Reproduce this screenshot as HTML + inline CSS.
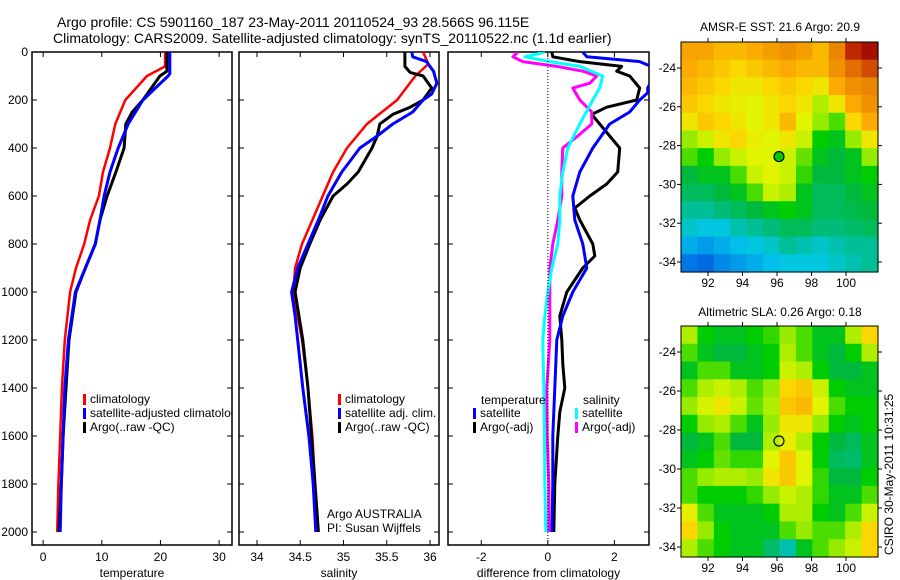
<!DOCTYPE html>
<html><head><meta charset="utf-8"><style>
body{margin:0;background:#fff;width:900px;height:580px;overflow:hidden}
svg{display:block;font-family:"Liberation Sans",sans-serif}
</style></head><body>
<svg id="c" width="900" height="580">
<text x="57" y="27" font-size="14">Argo profile: CS 5901160_187 23-May-2011 20110524_93 28.566S 96.115E</text>
<text x="53" y="43" font-size="14">Climatology: CARS2009. Satellite-adjusted climatology: synTS_20110522.nc (1.1d earlier)</text>
<text x="780" y="31" font-size="12" text-anchor="middle">AMSR-E SST: 21.6 Argo: 20.9</text>
<text x="780" y="316" font-size="12" text-anchor="middle">Altimetric SLA: 0.26 Argo: 0.18</text>
<text transform="translate(893,555) rotate(-90)" font-size="12">CSIRO 30-May-2011 10:31:25</text>
</svg>
<script>
// ---- data ----
const tDepthClim=[0,60,100,200,300,400,500,600,700,800,900,1000,1200,1400,1600,1800,2000];
const tempClim=[20.8,20.8,17.7,14,12.3,11.4,10.2,9.5,8,7,5.6,4.6,3.7,3.2,2.9,2.6,2.4];
const tDepthSat=[0,90,100,200,300,400,500,600,700,800,900,1000,1200,1400,1600,1800,2000];
const tempSat=[21.6,21.6,21.3,17,14.5,12.8,11.4,10.4,9.7,8.9,7.2,5.5,4.3,3.7,3.4,3.1,2.9];
const tDepthArgo=[0,80,100,200,250,300,400,500,600,700,800,900,1000,1200,1400,1600,1800,2000];
const tempArgo=[21.1,21.1,19.9,17,15.2,14.1,13.8,12.4,10.9,9.7,8.9,7.2,5.6,4.4,3.9,3.4,3.1,2.7];

const sDepthClim=[0,50,100,200,300,400,500,600,700,800,900,1000,1200,1400,1600,1800,2000];
const salClim=[35.92,35.98,35.83,35.62,35.27,35.04,34.88,34.76,34.64,34.52,34.44,34.42,34.52,34.59,34.64,34.67,34.71];
const sDepthSat=[0,20,40,80,130,175,200,250,300,350,400,500,600,700,800,900,1000,1100,1200,1400,1600,1800,2000];
const salSat=[35.79,35.8,35.96,36.04,36.08,36.02,35.92,35.8,35.57,35.39,35.19,34.98,34.82,34.71,34.59,34.47,34.4,34.44,34.47,34.53,34.6,34.65,34.68];
const sDepthArgo=[0,60,85,100,150,200,230,260,300,350,400,500,550,600,700,800,900,1000,1200,1400,1600,1800,2000];
const salArgo=[35.71,35.71,35.77,35.92,36.02,35.92,35.77,35.57,35.42,35.39,35.33,35.17,35.04,34.88,34.73,34.61,34.5,34.44,34.53,34.59,34.63,34.67,34.71];

const dDepthTS=[0,20,40,60,100,150,170,200,250,300,400,500,600,700,800,900,1000,1100,1200,1400,1600,1800,2000];
const diffTempSat=[1.05,1.17,2.76,3.1,3.2,3.0,3.0,2.76,2.46,1.86,1.35,0.96,0.75,0.81,1.05,1.17,0.75,0.45,0.27,0.21,0.15,0.15,0.12];
const dDepthTA=[0,20,40,60,80,100,150,200,230,260,300,400,500,550,600,650,700,800,850,900,1000,1100,1200,1300,1400,1500,1600,1800,2000];
const diffTempArgo=[0.12,0.15,0.96,2.22,2.07,2.46,2.76,2.67,1.77,1.32,1.56,2.16,2.1,1.77,1.26,0.81,0.96,1.35,1.41,1.05,0.57,0.36,0.42,0.45,0.51,0.36,0.3,0.21,0.18];
const dDepthSS=[0,20,40,60,100,150,200,300,400,500,600,700,800,900,1000,1100,1200,1400,1600,1800,2000];
const diffSalSat=[-0.09,-0.69,0.06,0.96,1.65,1.56,1.35,0.96,0.6,0.45,0.36,0.36,0.3,0.12,0,-0.09,-0.15,-0.12,-0.1,-0.09,-0.06];
const dDepthSA=[0,20,40,60,80,100,130,150,200,250,300,350,400,500,600,700,800,900,1000,1200,1400,1600,1800,2000];
const diffSalArgo=[-0.9,-1.05,-0.75,0.27,1.05,1.47,1.26,0.75,0.96,1.32,1.32,0.9,0.45,0.42,0.42,0.3,0.15,0.06,0.06,0.06,-0.03,-0.02,0.03,0.03];

const depthTicks=[0,200,400,600,800,1000,1200,1400,1600,1800,2000];
const tempTicks=[0,10,20,30];
const salTicks=[34,34.5,35,35.5,36];
const diffTicks=[-2,0,2];
const lonTicks=[92,94,96,98,100];
const latTicks=[-24,-26,-28,-30,-32,-34];

const sstGrid=[
[0.75,0.75,0.72,0.72,0.74,0.76,0.78,0.76,0.72,0.8,0.92,0.97],
[0.74,0.72,0.7,0.68,0.7,0.72,0.74,0.72,0.72,0.78,0.84,0.88],
[0.72,0.7,0.68,0.66,0.66,0.68,0.7,0.68,0.66,0.74,0.78,0.8],
[0.7,0.68,0.66,0.65,0.64,0.66,0.68,0.66,0.6,0.66,0.74,0.78],
[0.66,0.7,0.68,0.66,0.64,0.66,0.72,0.64,0.58,0.55,0.68,0.74],
[0.58,0.62,0.66,0.68,0.65,0.64,0.66,0.62,0.52,0.5,0.58,0.66],
[0.55,0.52,0.58,0.62,0.64,0.64,0.62,0.56,0.5,0.48,0.5,0.58],
[0.48,0.5,0.5,0.55,0.62,0.64,0.62,0.54,0.48,0.48,0.5,0.52],
[0.46,0.46,0.48,0.5,0.55,0.62,0.6,0.5,0.46,0.46,0.48,0.5],
[0.42,0.42,0.44,0.46,0.48,0.5,0.52,0.5,0.46,0.46,0.47,0.48],
[0.38,0.36,0.36,0.4,0.42,0.44,0.46,0.46,0.44,0.44,0.45,0.46],
[0.32,0.3,0.32,0.34,0.36,0.38,0.42,0.4,0.38,0.4,0.42,0.42],
[0.26,0.24,0.28,0.3,0.32,0.34,0.36,0.36,0.36,0.38,0.4,0.42]];
const slaGrid=[
[0.6,0.52,0.5,0.5,0.52,0.54,0.58,0.55,0.5,0.5,0.6,0.68],
[0.55,0.5,0.48,0.48,0.5,0.52,0.6,0.55,0.5,0.48,0.52,0.6],
[0.5,0.55,0.55,0.5,0.5,0.52,0.62,0.6,0.52,0.48,0.48,0.5],
[0.55,0.6,0.62,0.6,0.55,0.58,0.68,0.7,0.62,0.52,0.5,0.5],
[0.58,0.63,0.66,0.62,0.56,0.6,0.7,0.72,0.64,0.55,0.52,0.52],
[0.52,0.58,0.6,0.55,0.5,0.58,0.66,0.66,0.58,0.52,0.5,0.52],
[0.48,0.5,0.55,0.48,0.48,0.6,0.65,0.6,0.52,0.48,0.46,0.5],
[0.5,0.52,0.56,0.54,0.54,0.64,0.7,0.64,0.52,0.46,0.45,0.5],
[0.55,0.58,0.6,0.6,0.58,0.66,0.7,0.64,0.54,0.48,0.48,0.52],
[0.55,0.52,0.52,0.52,0.54,0.58,0.62,0.6,0.54,0.5,0.5,0.55],
[0.65,0.55,0.5,0.5,0.5,0.52,0.6,0.6,0.52,0.5,0.55,0.62],
[0.68,0.58,0.52,0.5,0.5,0.5,0.55,0.58,0.55,0.55,0.6,0.68],
[0.6,0.55,0.52,0.5,0.5,0.45,0.4,0.5,0.55,0.58,0.62,0.68]];
const argoLon=96.115, argoLat=-28.566;

// ---- drawing ----
const NS='http://www.w3.org/2000/svg';
const svg=document.getElementById('c');
function el(tag,attrs,parent){const e=document.createElementNS(NS,tag);for(const k in attrs)e.setAttribute(k,attrs[k]);(parent||svg).appendChild(e);return e;}
function txt(x,y,s,size,anchor,parent){const t=el('text',{x:x,y:y,'font-size':size,'text-anchor':anchor||'start'},parent);t.textContent=s;return t;}

const PT=52,PB=545,D0Y=52,DSC=0.24;
const yD=d=>D0Y+d*DSC;
let clipId=0;
function panel(name,L,R,xmin,xmax,xt,xtitle,showY){
  const g=el('g',{});
  
  
  const xs=v=>L+(v-xmin)/(xmax-xmin)*(R-L);
  const id='cp'+(clipId++);
  const cp=el('clipPath',{id:id},g);el('rect',{x:L,y:PT,width:R-L,height:PB-PT},cp);
  const frame=el('rect',{x:L,y:PT,width:R-L,height:PB-PT,fill:'none',stroke:'#000','stroke-width':1.5},g);
  
  
  xt.forEach(v=>{const x=xs(v);
    el('line',{x1:x,x2:x,y1:PB,y2:PB-5,stroke:'#000'},g);el('line',{x1:x,x2:x,y1:PT,y2:PT+5,stroke:'#000'},g);
    const t=txt(x,561,String(v),12,'middle',g);
    
    });
  depthTicks.forEach(d=>{const y=yD(d);
    el('line',{x1:L,x2:L+5,y1:y,y2:y,stroke:'#000'},g);el('line',{x1:R,x2:R-5,y1:y,y2:y,stroke:'#000'},g);
    if(showY){const t=txt(L-4,y+4,String(d),12,'end',g);
      
      }});
  const at=txt((L+R)/2,577,xtitle,12,'middle',g);
  
  
  const lg=el('g',{'clip-path':'url(#'+id+')'},g);
  return {g,lg,xs};
}
function series(p,depths,vals,color,w,name){
  const pts=depths.map((d,i)=>p.xs(vals[i]).toFixed(1)+','+yD(d).toFixed(1)).join(' ');
  const l=el('polyline',{points:pts,fill:'none',stroke:color,'stroke-width':w,'stroke-linejoin':'round'},p.lg);
  
  
}
function legend(x,y,items,parent){
  items.forEach((it,i)=>{
    const yy=y+i*14;
    const m=el('rect',{x:x,y:yy-9,width:3,height:11,fill:it[1]},parent);
    
    
    const t=txt(x+7,yy,it[0],12,'start',parent);
    
    
  });
}

const p1=panel('temperature-panel',32,232,-1.9,32.2,tempTicks,'temperature',true);
series(p1,tDepthClim,tempClim,'#f00',2.5,'temp-climatology-line');
series(p1,tDepthArgo,tempArgo,'#000',3,'temp-argo-line');
series(p1,tDepthSat,tempSat,'#00f',3,'temp-satellite-line');
legend(83,403,[['climatology','#f00'],['satellite-adjusted climatology','#00f'],['Argo(..raw -QC)','#000']],p1.lg);

const p2=panel('salinity-panel',239,439,33.792,36.104,salTicks,'salinity',false);
series(p2,sDepthClim,salClim,'#f00',2.5,'sal-climatology-line');
series(p2,sDepthArgo,salArgo,'#000',3,'sal-argo-line');
series(p2,sDepthSat,salSat,'#00f',3,'sal-satellite-line');
legend(338,403,[['climatology','#f00'],['satellite adj. clim.','#00f'],['Argo(..raw -QC)','#000']],p2.g);
let t=txt(327,518,'Argo AUSTRALIA',12,'start',p2.g);


t=txt(327,532,'PI: Susan Wijffels',12,'start',p2.g);



const p3=panel('difference-panel',448,649,-3.0,3.04,diffTicks,'difference from climatology',false);
const zl=el('line',{x1:p3.xs(0),x2:p3.xs(0),y1:PT,y2:PB,stroke:'#000','stroke-dasharray':'1,2'},p3.g);


series(p3,dDepthTA,diffTempArgo,'#000',3,'diff-temp-argo-line');
series(p3,dDepthTS,diffTempSat,'#00f',3,'diff-temp-satellite-line');
series(p3,dDepthSA,diffSalArgo,'#f0f',3,'diff-sal-argo-line');
series(p3,dDepthSS,diffSalSat,'#0ff',3,'diff-sal-satellite-line');
t=txt(481,404,'temperature',12,'start',p3.g);


t=txt(583,404,'salinity',12,'start',p3.g);


legend(473,417,[['satellite','#00f'],['Argo(-adj)','#000']],p3.g);
legend(575,417,[['satellite','#0ff'],['Argo(-adj)','#f0f']],p3.g);

// maps
const cmapStops=[[0,[0,0,140]],[0.25,[0,110,230]],[0.35,[0,200,235]],[0.42,[0,190,150]],[0.48,[0,185,60]],[0.52,[0,205,0]],[0.58,[150,235,0]],[0.64,[225,245,0]],[0.68,[250,215,0]],[0.74,[250,170,0]],[0.84,[225,110,0]],[0.92,[190,40,0]],[1,[150,0,0]]];
function cmap(v){
  for(let i=1;i<cmapStops.length;i++){
    if(v<=cmapStops[i][0]){
      const a=cmapStops[i-1],b=cmapStops[i],f=(v-a[0])/(b[0]-a[0]);
      return 'rgb('+a[1].map((c,k)=>Math.round(c+(b[1][k]-c)*f)).join(',')+')';
    }
  }
  return 'rgb(150,0,0)';
}
function map(name,L,R,T,B,lat24y,lat34y,grid,dotFill){
  const g=el('g',{});
  
  
  const lonX=v=>708+(v-92)*(846-708)/8;
  const latY=v=>lat24y+(v+24)*(lat34y-lat24y)/(-10);
  const rows=grid.length,cols=grid[0].length;
  const cw=(R-L)/cols,ch=(B-T)/rows;
  grid.forEach((row,i)=>row.forEach((v,j)=>{
    const c=el('rect',{x:(L+j*cw).toFixed(2),y:(T+i*ch).toFixed(2),width:(cw+0.6).toFixed(2),height:(ch+0.6).toFixed(2),fill:cmap(v)},g);
    
    
  }));
  el('rect',{x:L,y:T,width:R-L,height:B-T,fill:'none',stroke:'#000'},g);
  lonTicks.forEach(v=>{const x=lonX(v);
    el('line',{x1:x,x2:x,y1:B,y2:B+4,stroke:'#000'},g);el('line',{x1:x,x2:x,y1:T,y2:T-4,stroke:'#000'},g);
    const tl=txt(x,B+15,String(v),12,'middle',g);
    
    });
  latTicks.forEach(v=>{const y=latY(v);
    el('line',{x1:R,x2:R+4,y1:y,y2:y,stroke:'#000'},g);el('line',{x1:L,x2:L-4,y1:y,y2:y,stroke:'#000'},g);
    const tl=txt(L-5,y+4,String(v),12,'end',g);
    
    });
  const m=el('circle',{cx:lonX(argoLon),cy:latY(argoLat),r:5,fill:dotFill,stroke:'#000','stroke-width':1.2},g);
  
  
}
map('sst-map',681,878,42,272,68,262,sstGrid,'#00c800');
map('sla-map',681,878,326,557,352,547,slaGrid,'none');
</script>
</body></html>
